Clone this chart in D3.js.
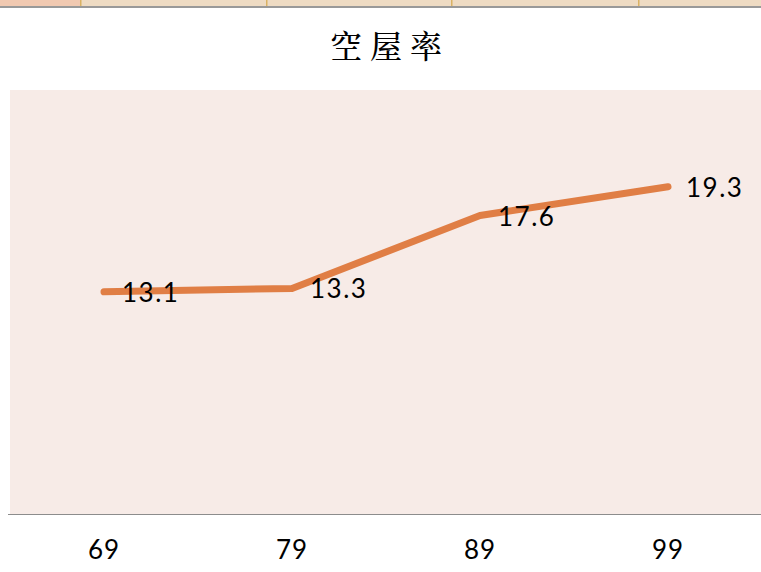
<!DOCTYPE html>
<html>
<head>
<meta charset="utf-8">
<script src="https://cdn.jsdelivr.net/npm/d3@7"></script>
<style>
  body { margin: 0; background: #fff; }
  svg { display: block; }
</style>
</head>
<body>
<div id="chart"></div>
<script>
// data
const years = ["69", "79", "89", "99"];
const vacancyRate = [13.1, 13.3, 17.6, 19.3];
const chartTitle = "空屋率";

const W = 761, H = 572;
const plot = {left: 10, right: 762, top: 90, bottom: 514};

const svg = d3.select("#chart")
    .append("svg")
    .attr("width", W)
    .attr("height", H);

// spreadsheet header strip at the very top
const stripEdges = [0, 81, 267, 452, 639, 761];
svg.selectAll(".cell")
    .data(d3.pairs(stripEdges))
    .join("rect")
    .attr("x", d => d[0])
    .attr("y", 0)
    .attr("width", d => d[1] - d[0])
    .attr("height", 6)
    .attr("fill", (d, i) => i === 0 ? "#f1c9b1" : "#eedbc3");
svg.selectAll(".sep")
    .data(stripEdges.slice(1, -1))
    .join("rect")
    .attr("x", d => d - 1)
    .attr("y", 0)
    .attr("width", 1.5)
    .attr("height", 6)
    .attr("fill", "#d9b264");
svg.append("rect")
    .attr("x", 0).attr("y", 6)
    .attr("width", W).attr("height", 2)
    .attr("fill", "#999");

// title
svg.append("text")
    .attr("x", 390)
    .attr("y", 58)
    .attr("text-anchor", "middle")
    .attr("font-family", "'Noto Serif CJK TC', 'Noto Sans CJK TC', serif")
    .attr("font-size", 32)
    .attr("font-weight", 500)
    .attr("letter-spacing", 8)
    .attr("fill", "#000")
    .text(chartTitle);

// plot area background
svg.append("rect")
    .attr("x", plot.left)
    .attr("y", plot.top)
    .attr("width", plot.right - plot.left)
    .attr("height", plot.bottom - plot.top)
    .attr("fill", "#f7ebe7");

const x = d3.scaleBand()
    .domain(years)
    .range([plot.left, plot.right]);

const y = d3.scaleLinear()
    .domain([0, 25])
    .range([plot.bottom, plot.top]);

// x axis
const xAxis = svg.append("g")
    .attr("transform", `translate(0,${plot.bottom})`)
    .call(d3.axisBottom(x).tickSize(0).tickPadding(27));
xAxis.select(".domain").remove();
xAxis.selectAll("text")
    .attr("font-family", "'Lato', 'DejaVu Sans', sans-serif")
    .attr("font-size", 26)
    .attr("letter-spacing", 1)
    .attr("fill", "#000");
svg.append("line")
    .attr("x1", 8).attr("x2", W)
    .attr("y1", plot.bottom + 0.5).attr("y2", plot.bottom + 0.5)
    .attr("stroke", "#8c8c8c")
    .attr("stroke-width", 1.2);

const pts = years.map((yr, i) => ({yr: yr, v: vacancyRate[i]}));

// line
svg.append("path")
    .datum(pts)
    .attr("fill", "none")
    .attr("stroke", "#e07e45")
    .attr("stroke-width", 7)
    .attr("stroke-linecap", "round")
    .attr("stroke-linejoin", "round")
    .attr("d", d3.line()
        .x(d => x(d.yr) + x.bandwidth() / 2)
        .y(d => y(d.v)));

// data labels
svg.selectAll(".lbl")
    .data(pts)
    .join("text")
    .attr("x", d => x(d.yr) + x.bandwidth() / 2 + 18)
    .attr("y", d => y(d.v) + 10)
    .attr("font-family", "'Lato', 'DejaVu Sans', sans-serif")
    .attr("font-size", 26)
    .attr("letter-spacing", 1.5)
    .attr("fill", "#000")
    .text(d => d.v.toFixed(1));
</script>
</body>
</html>
